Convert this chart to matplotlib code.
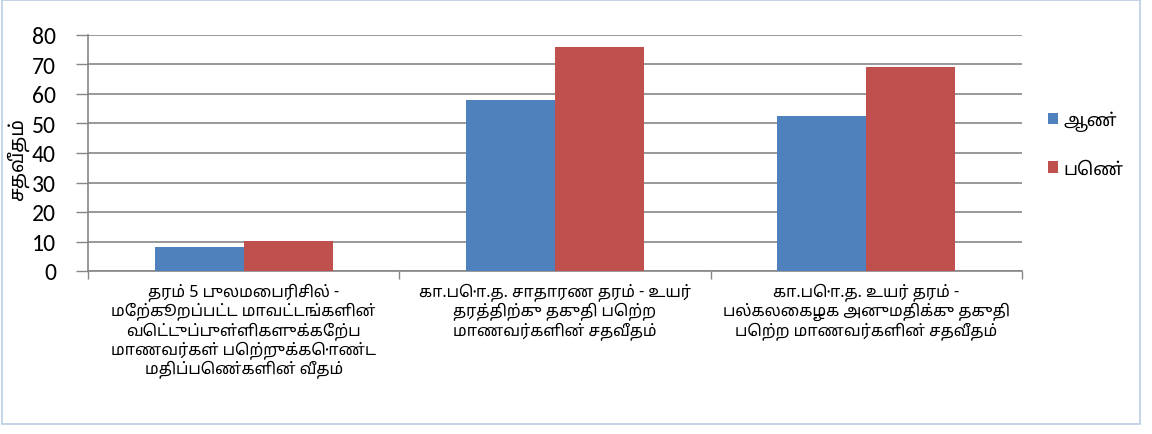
import matplotlib
matplotlib.use('Agg')
import matplotlib.pyplot as plt
import matplotlib.patches as mpatches
import numpy as np

TAMIL = ['Noto Sans Tamil', 'DejaVu Sans']

categories = [
    'தரம் 5 புலமைபரிசில் -\nமேற்கூறப்பட்ட மாவட்டங்களின்\nவெட்டுப்புள்ளிகளுக்கேற்ப\nமாணவர்கள் பெற்றுக்கொண்ட\nமதிப்பெண்களின் வீதம்',
    'கா.பொ.த. சாதாரண தரம் - உயர்\nதரத்திற்கு தகுதி பெற்ற\nமாணவர்களின் சதவீதம்',
    'கா.பொ.த. உயர் தரம் -\nபல்கலைகழக அனுமதிக்கு தகுதி\nபெற்ற மாணவர்களின் சதவீதம்',
]
series_names = ['ஆண்', 'பெண்']
male = [8.2, 57.9, 52.4]
female = [10.2, 75.8, 69.2]
y_ticks = [0, 10, 20, 30, 40, 50, 60, 70, 80]
y_label = 'சதவீதம்'

BLUE = '#4F81BD'
RED = '#C0504D'
GRID = '#868686'

fig = plt.figure(figsize=(11.52, 4.35), dpi=100)
fig.patch.set_facecolor('white')

# chart border (Excel style)
fig.add_artist(mpatches.Rectangle((2 / 1152, 10 / 435), 1138 / 1152, 424 / 435,
                                  transform=fig.transFigure, fill=False,
                                  edgecolor='#B9CDE5', lw=1.2))

ax = fig.add_axes([88 / 1152, 1 - 272 / 435, 934 / 1152, 236 / 435])

x = np.arange(len(categories))
w = 1 / 3.5
ax.bar(x - w / 2, male, w, color=BLUE, label=series_names[0], zorder=3)
ax.bar(x + w / 2, female, w, color=RED, label=series_names[1], zorder=3)

ax.set_xlim(-0.5, len(categories) - 0.5)
ax.set_ylim(0, 80)
ax.set_yticks(y_ticks)
ax.set_yticklabels([str(v) for v in y_ticks], fontsize=17, family='Carlito')
ax.yaxis.grid(True, color=GRID, lw=1.2, zorder=0)
ax.tick_params(axis='y', length=9, color=GRID, width=1, pad=14)

ax.set_xticks(x)
ax.set_xticklabels(categories, family=TAMIL, fontsize=11.5, linespacing=1.1)
ax.tick_params(axis='x', length=0, pad=8)
ax.set_xticks(np.arange(len(categories) + 1) - 0.5, minor=True)
ax.tick_params(axis='x', which='minor', length=6, color=GRID, width=1)

for s in ['top', 'right']:
    ax.spines[s].set_visible(False)
for s in ['left', 'bottom']:
    ax.spines[s].set_color(GRID)
    ax.spines[s].set_linewidth(1.2)

fig.text(18 / 1152, 1 - 160 / 435, y_label, rotation=90, family=TAMIL,
         fontsize=14, ha='center', va='center')

leg = ax.legend(loc='upper left', bbox_to_anchor=(1.01, 0.75), frameon=False,
                prop={'family': TAMIL, 'size': 13}, handlelength=0.6,
                handleheight=0.6, handletextpad=0.3, labelspacing=1.6)

fig.savefig('out.png', dpi=100, facecolor='white')
